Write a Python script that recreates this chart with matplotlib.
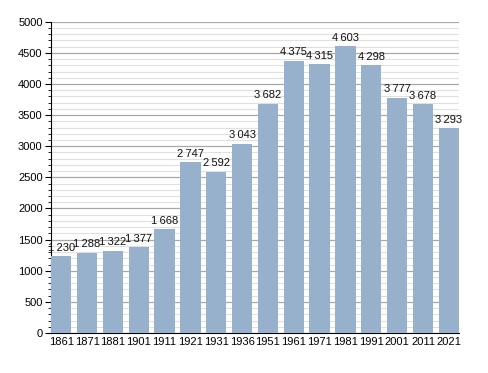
import matplotlib
matplotlib.use("Agg")
import matplotlib.pyplot as plt
from matplotlib.ticker import MultipleLocator

years = ["1861", "1871", "1881", "1901", "1911", "1921", "1931", "1936", "1951",
         "1961", "1971", "1981", "1991", "2001", "2011", "2021"]
population = [1230, 1288, 1322, 1377, 1668, 2747, 2592, 3043, 3682,
              4375, 4315, 4603, 4298, 3777, 3678, 3293]

plt.rcParams['font.family'] = ['Liberation Sans', 'DejaVu Sans']

bar_color = "#97b0cc"
w = 0.79

fig = plt.figure(figsize=(4.88, 3.73), dpi=100)
ax = fig.add_axes([51 / 488, 1 - 333 / 373, (459 - 51) / 488, (333 - 21.7) / 373])

x = list(range(len(years)))
ax.bar(x, population, width=w, color=bar_color, zorder=3)

for xi, v in zip(x, population):
    label = "{:,}".format(v).replace(",", "\u2009")
    ax.text(xi, v + 55, label, ha="center", va="bottom", fontsize=8, color="#111111")

ax.set_xlim(-w / 2, len(years) - 1 + w / 2)
ax.set_ylim(0, 5000)
ax.set_xticks(x)
ax.set_xticklabels(years)
ax.yaxis.set_major_locator(MultipleLocator(500))
ax.yaxis.set_minor_locator(MultipleLocator(100))

ax.grid(axis="y", which="major", color="#a8a8a8", linewidth=0.9, zorder=0)
ax.grid(axis="y", which="minor", color="#e0e0e0", linewidth=0.8, zorder=0)

for s in ["top", "right"]:
    ax.spines[s].set_visible(False)
ax.spines["left"].set_color("black")
ax.spines["bottom"].set_color("black")
ax.tick_params(axis="x", length=0, pad=3, labelsize=8)
ax.tick_params(axis="y", which="major", length=4, labelsize=8, pad=2)
ax.tick_params(axis="y", which="minor", length=2)

fig.savefig("out.png", dpi=100)
